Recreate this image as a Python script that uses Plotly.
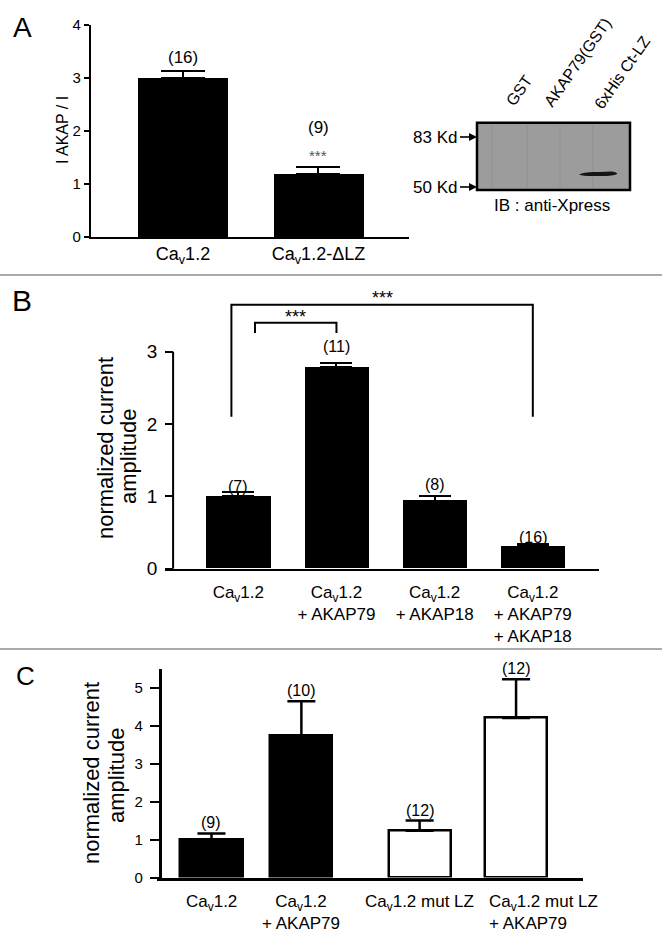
import plotly.graph_objects as go

W, H = 662, 937

# ---------------- data ----------------
catA = ["Ca<sub>v</sub>1.2", "Ca<sub>v</sub>1.2-ΔLZ"]
valA = [3.0, 1.18]
errA = [0.14, 0.15]
nA = ["(16)", "(9)"]
sigA = ["", "***"]
yticksA = [0, 1, 2, 3, 4]

blot_lanes = ["GST", "AKAP79(GST)", "6xHis Ct-LZ"]
blot_markers = ["83 Kd", "50 Kd"]
blot_caption = "IB : anti-Xpress"

catB = ["Ca<sub>v</sub>1.2",
        "Ca<sub>v</sub>1.2<br>+ AKAP79",
        "Ca<sub>v</sub>1.2<br>+ AKAP18",
        "Ca<sub>v</sub>1.2<br>+ AKAP79<br>+ AKAP18"]
valB = [1.0, 2.79, 0.94, 0.31]
errB = [0.06, 0.05, 0.06, 0.03]
nB = ["(7)", "(11)", "(8)", "(16)"]
compB = [(0, 1, "***"), (0, 3, "***")]
yticksB = [0, 1, 2, 3]

catC = ["Ca<sub>v</sub>1.2",
        "Ca<sub>v</sub>1.2<br>+ AKAP79",
        "Ca<sub>v</sub>1.2 mut LZ",
        "Ca<sub>v</sub>1.2 mut LZ<br>+ AKAP79"]
valC = [1.0, 3.74, 1.23, 4.20]
errC = [0.16, 0.90, 0.27, 1.02]
nC = ["(9)", "(10)", "(12)", "(12)"]
groupC = ["wt", "wt", "mut", "mut"]
yticksC = [0, 1, 2, 3, 4, 5]

# ---------------- style / layout ----------------
FONT = "Liberation Sans, Arial, sans-serif"


def fx(px):
    return px / W


def fy(py):
    return 1 - py / H


posA = [0, 1]
posB = [0, 1, 2, 3]
posC = [0, 1, 2.315, 3.388]
barwC = 0.69
fillC = {"wt": "black", "mut": "white"}
labeloffB = [6, 17, 12, 7]
labelanchorC = ["center", "center", "center", "left"]

fig = go.Figure()

# Panel A bars
fig.add_trace(go.Bar(
    x=posA, y=valA, width=0.664, xaxis="x", yaxis="y",
    marker=dict(color="black", line=dict(width=0)),
    error_y=dict(type="data", array=errA, arrayminus=[0] * len(errA), symmetric=False,
                 color="black", thickness=2, width=22),
    showlegend=False, hoverinfo="skip"))

# Panel B bars
fig.add_trace(go.Bar(
    x=posB, y=valB, width=0.657, xaxis="x2", yaxis="y2",
    marker=dict(color="black", line=dict(width=0)),
    error_y=dict(type="data", array=errB, arrayminus=[0] * len(errB), symmetric=False,
                 color="black", thickness=2, width=16),
    showlegend=False, hoverinfo="skip"))

# Panel C bars
fig.add_trace(go.Bar(
    x=posC, y=valC, width=barwC, xaxis="x3", yaxis="y3",
    marker=dict(color=[fillC[g] for g in groupC], line=dict(width=2.5, color="black")),
    error_y=dict(type="data", array=errC, arrayminus=[0] * len(errC), symmetric=False,
                 color="black", thickness=2.5, width=14),
    showlegend=False, hoverinfo="skip"))

ann = []
shapes = []


def ptext(t, px, py, size, xanchor="center", yanchor="middle", angle=0, color="black"):
    return dict(x=fx(px), y=fy(py), xref="paper", yref="paper", text=t, showarrow=False,
                xanchor=xanchor, yanchor=yanchor, textangle=angle,
                font=dict(size=size, color=color))


# n labels and significance in A
for p, v, e, n, s in zip(posA, valA, errA, nA, sigA):
    if s:
        ann.append(dict(x=p, y=v + e, xref="x", yref="y", text=s, showarrow=False,
                        xanchor="center", yanchor="middle", yshift=11,
                        font=dict(size=15, color="#555")))
        ann.append(dict(x=p, y=v + e, xref="x", yref="y", text=n, showarrow=False,
                        xanchor="center", yanchor="middle", yshift=39, font=dict(size=17)))
    else:
        ann.append(dict(x=p, y=v + e, xref="x", yref="y", text=n, showarrow=False,
                        xanchor="center", yanchor="middle", yshift=13, font=dict(size=17)))

for p, v, e, n, off in zip(posB, valB, errB, nB, labeloffB):
    ann.append(dict(x=p, y=v + e, xref="x2", yref="y2", text=n, showarrow=False,
                    xanchor="center", yanchor="middle", yshift=off, font=dict(size=16)))

for p, v, e, n in zip(posC, valC, errC, nC):
    ann.append(dict(x=p, y=v + e, xref="x3", yref="y3", text=n, showarrow=False,
                    xanchor="center", yanchor="middle", yshift=10.5, font=dict(size=16)))

# C category labels (as text under the axis)
for p, t, xa in zip(posC, catC, labelanchorC):
    xpos = p if xa == "center" else p - barwC / 2 + 0.02
    ann.append(dict(x=xpos, y=0, xref="x3", yref="y3", text=t, showarrow=False,
                    xanchor=xa, yanchor="top", yshift=-12, align=xa,
                    font=dict(size=17)))

# B brackets
bracket_geom = [dict(top=3.40, bottom=3.26, lshift=0.17, star=0),
                dict(top=3.65, bottom=2.10, lshift=-0.07, star=1)]
for (i, j, s), g in zip(compB, bracket_geom):
    x0 = posB[i] + g["lshift"]
    x1 = posB[j]
    shapes.append(dict(type="path", xref="x2", yref="y2",
                       path=f"M {x0},{g['bottom']} L {x0},{g['top']} L {x1},{g['top']} L {x1},{g['bottom']}",
                       line=dict(color="black", width=2)))
    ann.append(dict(x=(x0 + x1) / 2, y=g["top"], xref="x2", yref="y2", text=s, showarrow=False,
                    xanchor="center", yanchor="bottom", yshift=g["star"] - 6,
                    font=dict(size=18, color="black")))

# B y-axis line (0..3)
shapes.append(dict(type="line", xref="paper", yref="y2", x0=fx(173.1), x1=fx(173.1),
                   y0=0, y1=yticksB[-1], line=dict(color="black", width=2)))

# Divider lines
for py in (275, 649):
    shapes.append(dict(type="line", xref="paper", yref="paper", x0=0, x1=1, y0=fy(py), y1=fy(py),
                       line=dict(color="#aaaaaa", width=2)))

# Western blot
shapes.append(dict(type="rect", xref="paper", yref="paper", x0=fx(477), x1=fx(630),
                   y0=fy(190), y1=fy(122.7), fillcolor="#9c9c9c", line=dict(color="black", width=2.5),
                   layer="below"))
for lx in (492, 527, 560, 593):
    shapes.append(dict(type="line", xref="paper", yref="paper", x0=fx(lx), x1=fx(lx),
                       y0=fy(188), y1=fy(125), line=dict(color="#8a8a8a", width=1), opacity=0.6))
shapes.append(dict(type="path", xref="paper", yref="paper",
                   path=(f"M {fx(579)},{fy(174.5)} Q {fx(584)},{fy(171.5)} {fx(598)},{fy(172)} "
                         f"L {fx(612)},{fy(171.5)} Q {fx(618)},{fy(172.5)} {fx(617)},{fy(174)} "
                         f"Q {fx(612)},{fy(176.5)} {fx(598)},{fy(176)} "
                         f"Q {fx(584)},{fy(176.5)} {fx(579)},{fy(174.5)} Z"),
                   fillcolor="#151515", line=dict(width=0)))

lane_pos = [(500, 112), (538, 113), (588, 115)]
for t, (lx, ly) in zip(blot_lanes, lane_pos):
    ann.append(ptext(t, lx, ly, 16, xanchor="left", yanchor="bottom", angle=-55))

for t, py in zip(blot_markers, (137, 187)):
    ann.append(ptext(t, 459, py, 17, xanchor="right"))
    # arrow: shaft + head
    shapes.append(dict(type="line", xref="paper", yref="paper", x0=fx(460), x1=fx(471),
                       y0=fy(py), y1=fy(py), line=dict(color="black", width=1.6)))
    shapes.append(dict(type="path", xref="paper", yref="paper",
                       path=f"M {fx(469)},{fy(py - 4)} L {fx(477)},{fy(py)} L {fx(469)},{fy(py + 4)} Z",
                       fillcolor="black", line=dict(width=0)))

ann.append(ptext(blot_caption, 552, 205, 17))

# Axis titles
ann.append(ptext("I AKAP / I", 62, 130, 16, angle=-90))
for t, px, py in (("normalized current", 105, 448), ("amplitude", 128, 457)):
    ann.append(ptext(t, px, py, 22, angle=-90))
for t, px, py in (("normalized current", 91, 773), ("amplitude", 116, 776)):
    ann.append(ptext(t, px, py, 22, angle=-90))

# Panel letters
for t, px, py, sz in (("A", 22, 27, 28), ("B", 22, 300, 30), ("C", 25, 676, 26)):
    ann.append(ptext(t, px, py, sz))

common_x = dict(showgrid=False, zeroline=False, showline=True, linecolor="black", ticks="",
                tickangle=0, automargin=False)
common_y = dict(showgrid=False, zeroline=False, linecolor="black", ticks="outside", tickcolor="black",
                automargin=False)

fig.update_layout(
    width=W, height=H, margin=dict(l=0, r=0, t=0, b=0, pad=0, autoexpand=False),
    paper_bgcolor="white", plot_bgcolor="rgba(0,0,0,0)",
    font=dict(family=FONT, color="black"),
    showlegend=False, bargap=0,
    xaxis=dict(domain=[fx(90.7), fx(409)], range=[-0.681, 1.668], anchor="y",
               tickvals=posA, ticktext=catA, tickfont=dict(size=18), linewidth=1.5,
               ticklabelstandoff=0, **common_x),
    yaxis=dict(domain=[fy(237), fy(25)], range=[0, 4], anchor="x", showline=True, linewidth=1.5,
               tickvals=yticksA, ticklen=5, tickwidth=1.5, tickfont=dict(size=15), **common_y),
    xaxis2=dict(domain=[fx(164.7), fx(598.7)], range=[-0.7495, 3.671], anchor="y2",
                tickvals=posB, ticktext=catB, tickfont=dict(size=17), linewidth=2,
                ticklabelstandoff=7, **common_x),
    yaxis2=dict(domain=[fy(568.7), fy(568.7 - 4 * 72.33)], range=[0, 4], anchor="free",
                position=fx(173.1), showline=False, tickvals=yticksB, ticklen=8, tickwidth=2,
                tickfont=dict(size=19), ticklabelstandoff=4, **common_y),
    xaxis3=dict(domain=[fx(157), fx(582.6)], range=[-0.606, 4.128], anchor="y3",
                showticklabels=False, linewidth=2.5, **common_x),
    yaxis3=dict(domain=[fy(877.5), fy(877.5 - 5.5 * 38)], range=[0, 5.5], anchor="free",
                position=fx(159.6), showline=True, linewidth=2.5, tickvals=yticksC, ticklen=9,
                tickwidth=2, tickfont=dict(size=15), ticklabelstandoff=4, **common_y),
    annotations=ann, shapes=shapes,
)

fig.write_html("out.html", config={"displayModeBar": False},
               post_script="document.body.style.margin='0px';document.body.style.overflow='hidden';")
